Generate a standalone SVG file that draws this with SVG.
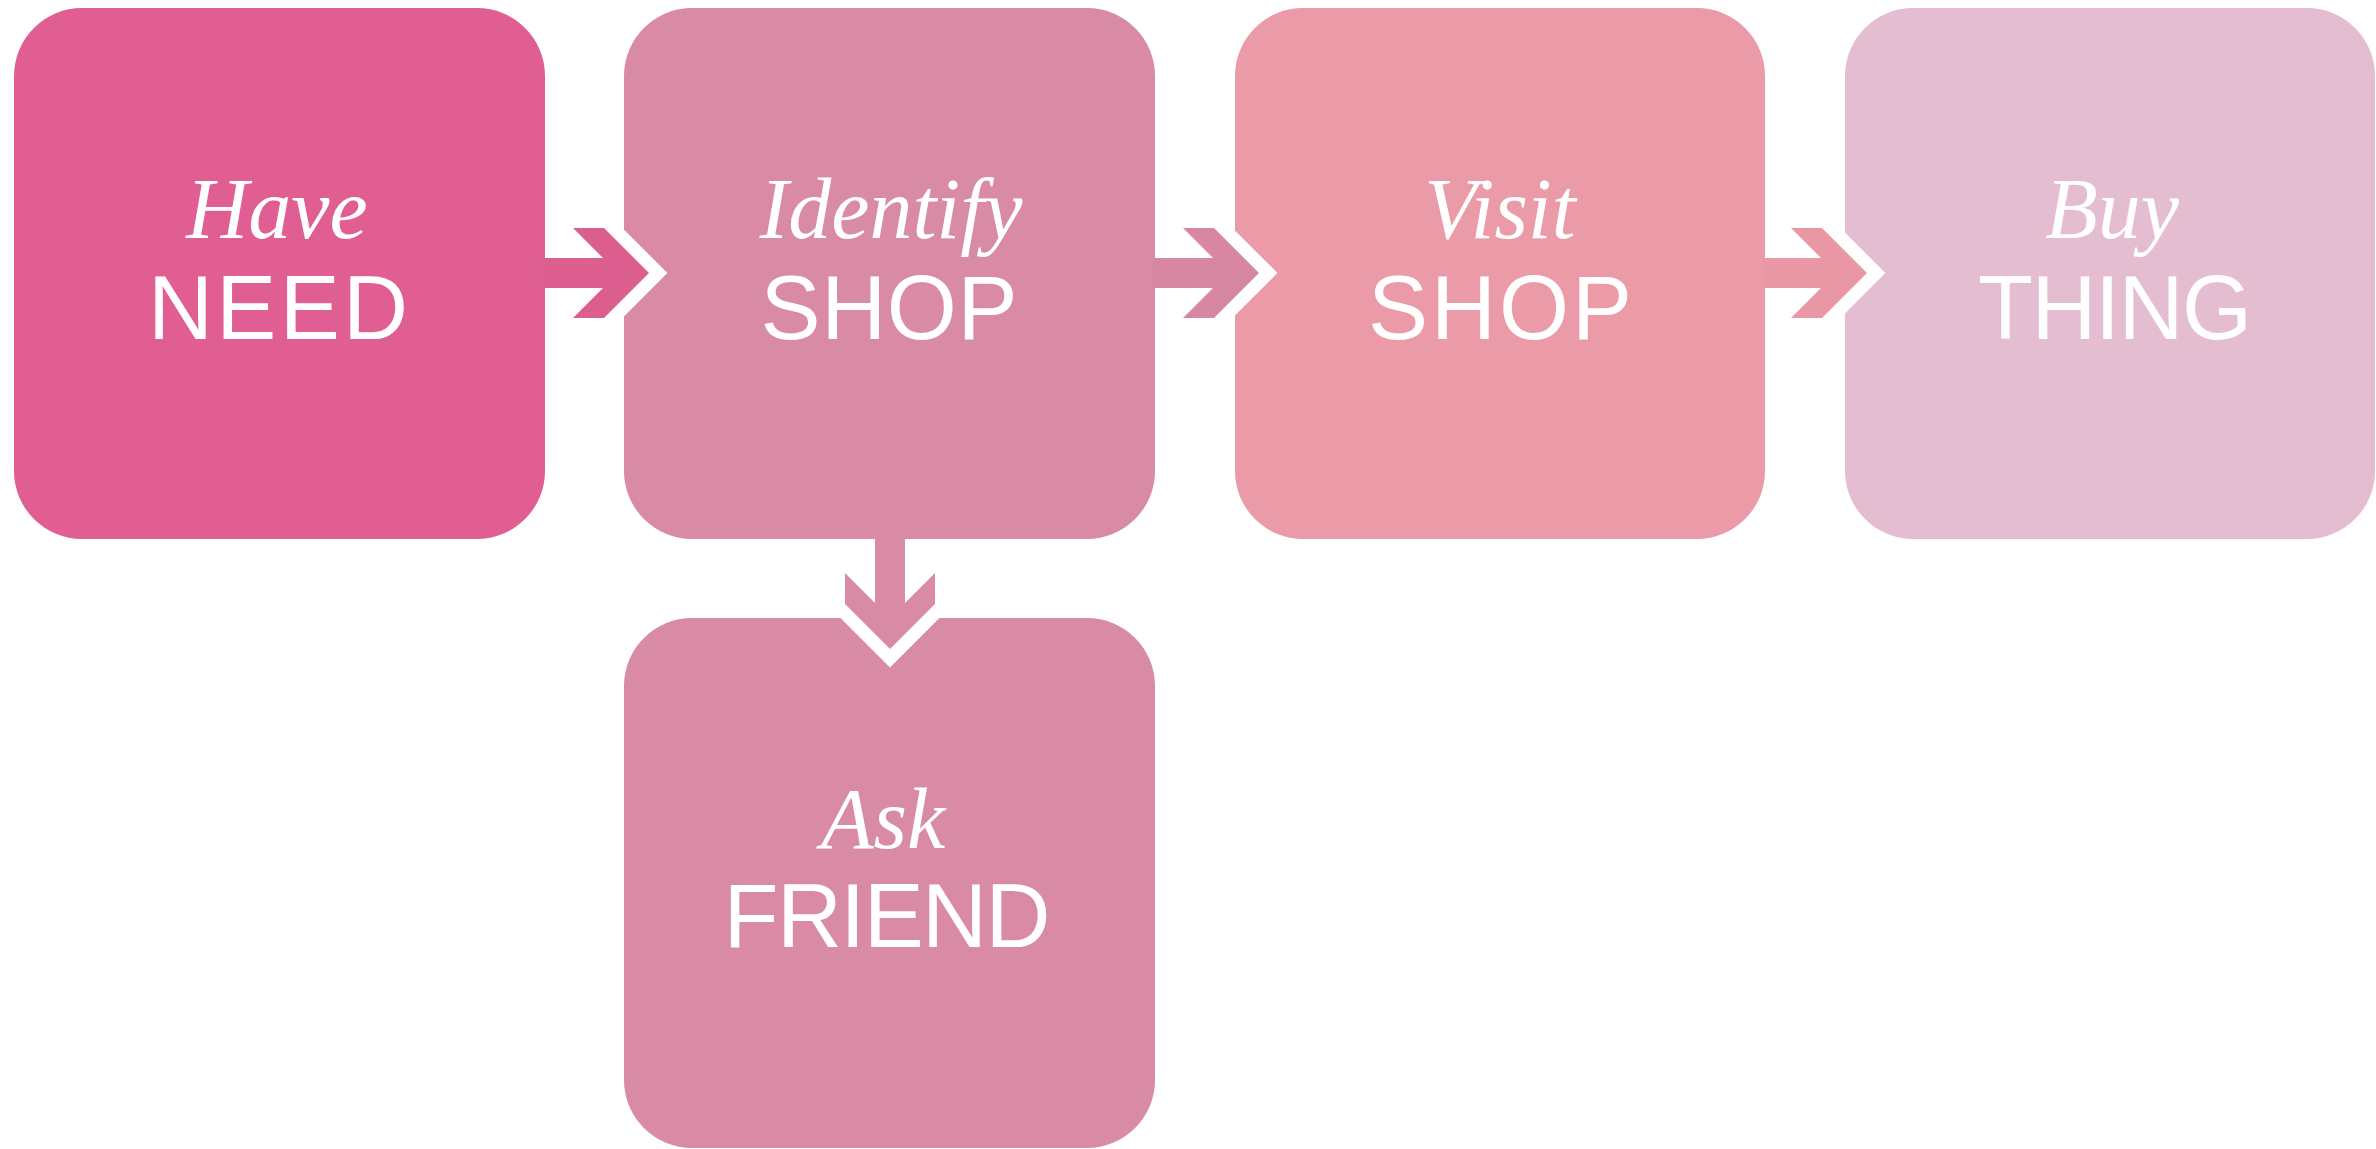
<svg xmlns="http://www.w3.org/2000/svg" width="2376" height="1149" viewBox="0 0 2376 1149">
<style>
.script{font-family:"Liberation Serif","DejaVu Serif",cursive;font-style:italic;font-size:86px;fill:#ffffff;text-anchor:middle}
.main{font-family:"Liberation Sans","Noto Sans",sans-serif;font-size:90px;fill:#ffffff;text-anchor:middle}
.halo{fill:#ffffff;stroke:#ffffff;stroke-width:26;stroke-linejoin:miter;stroke-miterlimit:1.5}
</style>
<defs>
<polygon id="chev" points="0,228 31,228 76,273 31,318 0,318 45,273"/>
</defs>
<rect width="2376" height="1149" fill="#ffffff"/>
<g id="node-have-need">
<rect x="14" y="8" width="531" height="531" rx="68" ry="68" fill="#E15E93"/>
<text class="script" x="277" y="238">Have</text>
<text class="main" x="278" y="339" textLength="260">NEED</text>
</g>
<g id="node-identify-shop">
<rect x="624" y="8" width="531" height="531" rx="68" ry="68" fill="#D98AA5"/>
<text class="script" x="891" y="238">Identify</text>
<text class="main" x="889" y="339" textLength="257">SHOP</text>
</g>
<g id="node-visit-shop">
<rect x="1235" y="8" width="530" height="531" rx="68" ry="68" fill="#EB9BA8"/>
<text class="script" x="1500" y="238">Visit</text>
<text class="main" x="1500" y="339" textLength="264">SHOP</text>
</g>
<g id="node-buy-thing">
<rect x="1845" y="8" width="530" height="531" rx="68" ry="68" fill="#E5BDD1"/>
<text class="script" x="2112" y="238">Buy</text>
<text class="main" x="2115" y="339" textLength="274">THING</text>
</g>
<g id="node-ask-friend">
<rect x="624" y="618" width="531" height="530" rx="68" ry="68" fill="#D98AA5"/>
<text class="script" x="883" y="848">Ask</text>
<text class="main" x="887" y="947" textLength="327">FRIEND</text>
</g>
<g id="connectors">
<g id="arrow-1">
<use href="#chev" x="573" class="halo"/>
<polygon fill="#DC5E8E" points="543,258 603,258 573,228 604,228 649,273 604,318 573,318 603,288 543,288"/>
</g>
<g id="arrow-2">
<use href="#chev" x="1183" class="halo"/>
<polygon fill="#D887A2" points="1153,258 1213,258 1183,228 1214,228 1259,273 1214,318 1183,318 1213,288 1153,288"/>
</g>
<g id="arrow-3">
<use href="#chev" x="1791" class="halo"/>
<polygon fill="#EA97A5" points="1763,258 1821,258 1791,228 1822,228 1867,273 1822,318 1791,318 1821,288 1763,288"/>
</g>
<g id="arrow-down">
<polygon class="halo" points="935,573 935,604 890,649 845,604 845,573 890,618"/>
<polygon fill="#D98AA5" points="875,536 905,536 905,603 935,573 935,604 890,649 845,604 845,573 875,603"/>
</g>
</g>
</svg>
